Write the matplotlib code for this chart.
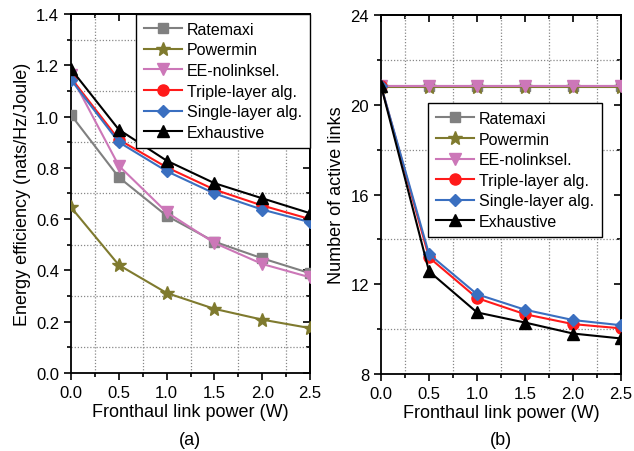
import numpy as np
import matplotlib
matplotlib.use("Agg")
import matplotlib.pyplot as plt
from matplotlib.ticker import MultipleLocator

plt.rcParams['font.family'] = ['Liberation Sans', 'DejaVu Sans']

power = [0.0, 0.5, 1.0, 1.5, 2.0, 2.5]
names = ["Ratemaxi", "Powermin", "EE-nolinksel.", "Triple-layer alg.",
         "Single-layer alg.", "Exhaustive"]

# (a) energy efficiency
ee_ratemaxi = [1.006, 0.763, 0.613, 0.512, 0.447, 0.389]
ee_powermin = [0.646, 0.421, 0.312, 0.250, 0.208, 0.175]
ee_nolinksel = [1.16, 0.808, 0.627, 0.507, 0.425, 0.373]
ee_triple = [1.15, 0.91, 0.802, 0.715, 0.653, 0.600]
ee_single = [1.143, 0.90, 0.787, 0.700, 0.637, 0.588]
ee_exhaustive = [1.185, 0.949, 0.828, 0.740, 0.681, 0.623]

# (b) number of active links
nl_ratemaxi = [20.85, 20.85, 20.85, 20.85, 20.85, 20.85]
nl_powermin = [20.8, 20.8, 20.8, 20.8, 20.8, 20.8]
nl_nolinksel = [20.85, 20.85, 20.85, 20.85, 20.85, 20.85]
nl_triple = [20.85, 13.2, 11.39, 10.67, 10.23, 10.04]
nl_single = [20.85, 13.35, 11.56, 10.87, 10.41, 10.18]
nl_exhaustive = [20.85, 12.58, 10.75, 10.30, 9.81, 9.59]

colors = ["#808080", "#7f7a2e", "#cc77b8", "#ff1a1a", "#3a6fc0", "#000000"]
markers = ["s", "*", "v", "o", "D", "^"]
msizes = [7, 10, 8, 8, 6.5, 8]

fig = plt.figure(figsize=(6.34, 4.52), dpi=100)
ax1 = fig.add_axes([0.112, 0.1726, 0.377, 0.7944])
ax2 = fig.add_axes([0.601, 0.170, 0.3785, 0.7946])


def draw(ax, series):
    for i, ys in enumerate(series):
        ax.plot(power, ys, color=colors[i], marker=markers[i], ms=msizes[i],
                lw=1.5, label=names[i], zorder=3 + i)


def style(ax, ymaj, ymin):
    ax.set_xlim(0, 2.5)
    ax.xaxis.set_major_locator(MultipleLocator(0.5))
    ax.xaxis.set_minor_locator(MultipleLocator(0.25))
    ax.yaxis.set_major_locator(MultipleLocator(ymaj))
    ax.yaxis.set_minor_locator(MultipleLocator(ymin))
    ax.grid(which='minor', color='#888888', ls=(0, (1, 1.5)), lw=0.9)
    ax.grid(which='major', visible=False)
    ax.tick_params(which='both', labelsize=12, width=1.2, direction='out')
    ax.tick_params(which='major', length=5)
    ax.tick_params(which='minor', length=3)
    for s in ax.spines.values():
        s.set_linewidth(1.3)
    ax.set_xlabel("Fronthaul link power (W)", fontsize=13, labelpad=2)
    # mirrored ticks on top and right, pointing inward
    top = ax.secondary_xaxis('top')
    top.xaxis.set_major_locator(MultipleLocator(0.5))
    top.xaxis.set_minor_locator(MultipleLocator(0.25))
    top.tick_params(which='both', direction='in', labeltop=False, width=1.2)
    top.tick_params(which='major', length=5)
    top.tick_params(which='minor', length=3)
    top.spines['top'].set_linewidth(1.3)
    right = ax.secondary_yaxis('right')
    right.yaxis.set_major_locator(MultipleLocator(ymaj))
    right.yaxis.set_minor_locator(MultipleLocator(ymin))
    right.tick_params(which='both', direction='in', labelright=False, width=1.2)
    right.tick_params(which='major', length=5)
    right.tick_params(which='minor', length=3)
    right.spines['right'].set_linewidth(1.3)


def legend(ax, **kw):
    leg = ax.legend(fontsize=11.5, handlelength=2.4, borderaxespad=0,
                    fancybox=False, edgecolor='black', framealpha=1,
                    labelspacing=0.35, handletextpad=0.3, borderpad=0.5, **kw)
    leg.get_frame().set_linewidth(1.0)
    leg.set_zorder(20)


draw(ax1, [ee_ratemaxi, ee_powermin, ee_nolinksel, ee_triple, ee_single, ee_exhaustive])
ax1.set_ylim(0, 1.4)
style(ax1, 0.2, 0.1)
ax1.set_ylabel("Energy efficiency (nats/Hz/Joule)", fontsize=13, labelpad=4)
legend(ax1, loc='upper right')

draw(ax2, [nl_ratemaxi, nl_powermin, nl_nolinksel, nl_triple, nl_single, nl_exhaustive])
ax2.set_ylim(8, 24)
style(ax2, 4, 2)
ax2.set_ylabel("Number of active links", fontsize=13, labelpad=4)
legend(ax2, loc='upper left', bbox_to_anchor=(0.196, 0.755))

fig.text(0.30, 0.015, "(a)", ha='center', fontsize=13)
fig.text(0.79, 0.015, "(b)", ha='center', fontsize=13)

fig.savefig("out.png", dpi=100)
